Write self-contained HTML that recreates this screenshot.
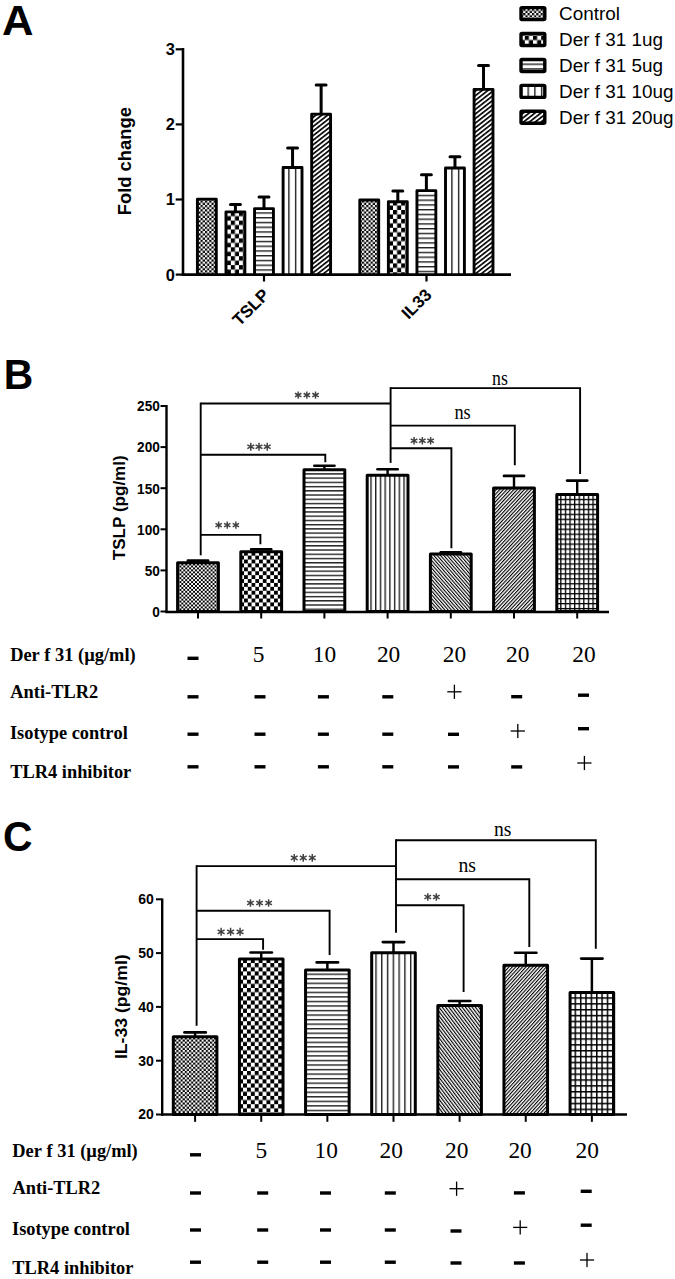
<!DOCTYPE html><html><head><meta charset="utf-8"><style>html,body{margin:0;padding:0;background:#fff;overflow:hidden;}svg{display:block;}</style></head><body>
<svg width="675" height="1279" viewBox="0 0 675 1279">
<defs><pattern id="adot" patternUnits="userSpaceOnUse" width="4.36" height="4.36"><rect width="4.36" height="4.36" fill="#fff"/><rect width="2.18" height="2.18" fill="#000"/><rect x="2.18" y="2.18" width="2.18" height="2.18" fill="#000"/></pattern><pattern id="achk" patternUnits="userSpaceOnUse" width="8.2" height="8.9"><rect width="8.2" height="8.9" fill="#fff"/><rect width="4.1" height="4.45" fill="#000"/><rect x="4.1" y="4.45" width="4.1" height="4.45" fill="#000"/></pattern><pattern id="ahor" patternUnits="userSpaceOnUse" width="10" height="4.75"><rect width="10" height="4.75" fill="#fff"/><rect y="0" width="10" height="1.4" fill="#222"/></pattern><pattern id="aver" patternUnits="userSpaceOnUse" width="6.7" height="10"><rect width="6.7" height="10" fill="#fff"/><rect x="0" width="1.4" height="10" fill="#222"/></pattern><pattern id="afwd" patternUnits="userSpaceOnUse" width="3.6" height="3.6" patternTransform="rotate(52)"><rect width="3.6" height="3.6" fill="#fff"/><rect width="1.66" height="3.6" fill="#000"/></pattern><pattern id="abck" patternUnits="userSpaceOnUse" width="3.6" height="3.6" patternTransform="rotate(-52)"><rect width="3.6" height="3.6" fill="#fff"/><rect width="1.66" height="3.6" fill="#000"/></pattern><pattern id="agrd" patternUnits="userSpaceOnUse" width="4.6" height="4.6"><rect width="4.6" height="4.6" fill="#000"/><rect x="1.4" y="1.4" width="3.20" height="3.20" fill="#fff"/></pattern><pattern id="bdot" patternUnits="userSpaceOnUse" width="3.9" height="3.9"><rect width="3.9" height="3.9" fill="#fff"/><rect width="1.95" height="1.95" fill="#000"/><rect x="1.95" y="1.95" width="1.95" height="1.95" fill="#000"/></pattern><pattern id="bchk" patternUnits="userSpaceOnUse" width="7.5" height="7.8"><rect width="7.5" height="7.8" fill="#fff"/><rect width="3.75" height="3.9" fill="#000"/><rect x="3.75" y="3.9" width="3.75" height="3.9" fill="#000"/></pattern><pattern id="bhor" patternUnits="userSpaceOnUse" width="10" height="4.23"><rect width="10" height="4.23" fill="#fff"/><rect y="0" width="10" height="1.4" fill="#222"/></pattern><pattern id="bver" patternUnits="userSpaceOnUse" width="4.72" height="10"><rect width="4.72" height="10" fill="#fff"/><rect x="0" width="1.4" height="10" fill="#222"/></pattern><pattern id="bfwd" patternUnits="userSpaceOnUse" width="2.56" height="2.56" patternTransform="rotate(43)"><rect width="2.56" height="2.56" fill="#fff"/><rect width="1.13" height="2.56" fill="#000"/></pattern><pattern id="bbck" patternUnits="userSpaceOnUse" width="2.5" height="2.5" patternTransform="rotate(-41)"><rect width="2.5" height="2.5" fill="#fff"/><rect width="1.10" height="2.5" fill="#000"/></pattern><pattern id="bgrd" patternUnits="userSpaceOnUse" width="4.6" height="4.96"><rect width="4.6" height="4.96" fill="#000"/><rect x="1.3" y="1.3" width="3.30" height="3.66" fill="#fff"/></pattern><pattern id="cdot" patternUnits="userSpaceOnUse" width="4.2" height="4.2"><rect width="4.2" height="4.2" fill="#fff"/><rect width="2.1" height="2.1" fill="#000"/><rect x="2.1" y="2.1" width="2.1" height="2.1" fill="#000"/></pattern><pattern id="cchk" patternUnits="userSpaceOnUse" width="7.8" height="8.3"><rect width="7.8" height="8.3" fill="#fff"/><rect width="3.9" height="4.15" fill="#000"/><rect x="3.9" y="4.15" width="3.9" height="4.15" fill="#000"/></pattern><pattern id="chor" patternUnits="userSpaceOnUse" width="10" height="4.54"><rect width="10" height="4.54" fill="#fff"/><rect y="0" width="10" height="1.4" fill="#222"/></pattern><pattern id="cver" patternUnits="userSpaceOnUse" width="5.78" height="10"><rect width="5.78" height="10" fill="#fff"/><rect x="0" width="1.4" height="10" fill="#222"/></pattern><pattern id="cfwd" patternUnits="userSpaceOnUse" width="2.53" height="2.53" patternTransform="rotate(42)"><rect width="2.53" height="2.53" fill="#fff"/><rect width="1.11" height="2.53" fill="#000"/></pattern><pattern id="cbck" patternUnits="userSpaceOnUse" width="2.64" height="2.64" patternTransform="rotate(-37)"><rect width="2.64" height="2.64" fill="#fff"/><rect width="1.16" height="2.64" fill="#000"/></pattern><pattern id="cgrd" patternUnits="userSpaceOnUse" width="5.36" height="5.86"><rect width="5.36" height="5.86" fill="#000"/><rect x="1.5" y="1.5" width="3.86" height="4.36" fill="#fff"/></pattern></defs>
<rect width="675" height="1279" fill="#fff"/>
<text transform="translate(2.01,34.70) scale(1.0086,1)" font-family='"Liberation Sans", sans-serif' font-size="43.300" font-weight="bold" fill="#000" style="font-kerning:none">A</text>
<line x1="183.00" y1="48.00" x2="183.00" y2="275.80" stroke="#000" stroke-width="2.6"/>
<line x1="181.70" y1="274.60" x2="511.00" y2="274.60" stroke="#000" stroke-width="2.6"/>
<line x1="175.70" y1="274.60" x2="183.00" y2="274.60" stroke="#000" stroke-width="2.2"/>
<text x="174.80" y="280.50" font-family='"Liberation Sans", sans-serif' font-size="16.4" font-weight="bold" text-anchor="end" fill="#000" style="font-kerning:none">0</text>
<line x1="175.70" y1="199.50" x2="183.00" y2="199.50" stroke="#000" stroke-width="2.2"/>
<text x="174.80" y="205.40" font-family='"Liberation Sans", sans-serif' font-size="16.4" font-weight="bold" text-anchor="end" fill="#000" style="font-kerning:none">1</text>
<line x1="175.70" y1="124.40" x2="183.00" y2="124.40" stroke="#000" stroke-width="2.2"/>
<text x="174.80" y="130.30" font-family='"Liberation Sans", sans-serif' font-size="16.4" font-weight="bold" text-anchor="end" fill="#000" style="font-kerning:none">2</text>
<line x1="175.70" y1="49.30" x2="183.00" y2="49.30" stroke="#000" stroke-width="2.2"/>
<text x="174.80" y="55.20" font-family='"Liberation Sans", sans-serif' font-size="16.4" font-weight="bold" text-anchor="end" fill="#000" style="font-kerning:none">3</text>
<text transform="translate(131.10,215.23) rotate(-90) scale(0.9666,1)" font-family='"Liberation Sans", sans-serif' font-size="19.000" font-weight="bold" fill="#000" style="font-kerning:none">Fold change</text>
<rect x="197.40" y="199.15" width="18.90" height="75.45" fill="url(#adot)" stroke="#000" stroke-width="2.9" stroke-linejoin="round"/>
<rect x="225.97" y="211.85" width="18.90" height="62.75" fill="url(#achk_1)" stroke="#000" stroke-width="2.9" stroke-linejoin="round"/>
<line x1="235.42" y1="211.40" x2="235.42" y2="204.60" stroke="#000" stroke-width="3.0"/>
<line x1="230.47" y1="204.60" x2="240.37" y2="204.60" stroke="#000" stroke-width="3.0" stroke-linecap="round"/>
<rect x="254.54" y="208.65" width="18.90" height="65.95" fill="url(#ahor_2)" stroke="#000" stroke-width="2.9" stroke-linejoin="round"/>
<line x1="263.99" y1="208.20" x2="263.99" y2="196.90" stroke="#000" stroke-width="3.0"/>
<line x1="259.04" y1="196.90" x2="268.94" y2="196.90" stroke="#000" stroke-width="3.0" stroke-linecap="round"/>
<rect x="283.11" y="167.45" width="18.90" height="107.15" fill="url(#aver_3)" stroke="#000" stroke-width="2.9" stroke-linejoin="round"/>
<line x1="292.56" y1="167.00" x2="292.56" y2="148.00" stroke="#000" stroke-width="3.0"/>
<line x1="287.61" y1="148.00" x2="297.51" y2="148.00" stroke="#000" stroke-width="3.0" stroke-linecap="round"/>
<rect x="311.68" y="114.15" width="18.90" height="160.45" fill="url(#afwd)" stroke="#000" stroke-width="2.9" stroke-linejoin="round"/>
<line x1="321.13" y1="113.70" x2="321.13" y2="85.00" stroke="#000" stroke-width="3.0"/>
<line x1="316.18" y1="85.00" x2="326.08" y2="85.00" stroke="#000" stroke-width="3.0" stroke-linecap="round"/>
<rect x="359.80" y="200.05" width="18.90" height="74.55" fill="url(#adot)" stroke="#000" stroke-width="2.9" stroke-linejoin="round"/>
<rect x="388.37" y="201.75" width="18.90" height="72.85" fill="url(#achk_4)" stroke="#000" stroke-width="2.9" stroke-linejoin="round"/>
<line x1="397.82" y1="201.30" x2="397.82" y2="190.90" stroke="#000" stroke-width="3.0"/>
<line x1="392.87" y1="190.90" x2="402.77" y2="190.90" stroke="#000" stroke-width="3.0" stroke-linecap="round"/>
<rect x="416.94" y="190.65" width="18.90" height="83.95" fill="url(#ahor)" stroke="#000" stroke-width="2.9" stroke-linejoin="round"/>
<line x1="426.39" y1="190.20" x2="426.39" y2="174.70" stroke="#000" stroke-width="3.0"/>
<line x1="421.44" y1="174.70" x2="431.34" y2="174.70" stroke="#000" stroke-width="3.0" stroke-linecap="round"/>
<rect x="445.51" y="167.95" width="18.90" height="106.65" fill="url(#aver_5)" stroke="#000" stroke-width="2.9" stroke-linejoin="round"/>
<line x1="454.96" y1="167.50" x2="454.96" y2="156.80" stroke="#000" stroke-width="3.0"/>
<line x1="450.01" y1="156.80" x2="459.91" y2="156.80" stroke="#000" stroke-width="3.0" stroke-linecap="round"/>
<rect x="474.08" y="89.35" width="18.90" height="185.25" fill="url(#afwd)" stroke="#000" stroke-width="2.9" stroke-linejoin="round"/>
<line x1="483.53" y1="88.90" x2="483.53" y2="65.60" stroke="#000" stroke-width="3.0"/>
<line x1="478.58" y1="65.60" x2="488.48" y2="65.60" stroke="#000" stroke-width="3.0" stroke-linecap="round"/>
<line x1="264.00" y1="274.60" x2="264.00" y2="281.50" stroke="#000" stroke-width="2.2"/>
<line x1="426.50" y1="274.60" x2="426.50" y2="281.50" stroke="#000" stroke-width="2.2"/>
<text transform="translate(239.38,326.82) rotate(-45)" font-family='"Liberation Sans", sans-serif' font-size="17.092" font-weight="bold" fill="#000" style="font-kerning:none">TSLP</text>
<text transform="translate(408.50,320.10) rotate(-45)" font-family='"Liberation Sans", sans-serif' font-size="17.091" font-weight="bold" fill="#000" style="font-kerning:none">IL33</text>
<rect x="521.00" y="7.60" width="23.80" height="12.00" rx="1" fill="url(#adot)" stroke="#000" stroke-width="3.4" stroke-linejoin="round"/>
<text x="559.00" y="19.90" font-family='"Liberation Sans", sans-serif' font-size="18.9" font-weight="normal" text-anchor="start" fill="#000" style="font-kerning:none">Control</text>
<rect x="521.00" y="33.53" width="23.80" height="12.00" rx="1" fill="url(#achk)" stroke="#000" stroke-width="3.4" stroke-linejoin="round"/>
<text x="559.00" y="45.90" font-family='"Liberation Sans", sans-serif' font-size="18.9" font-weight="normal" text-anchor="start" fill="#000" style="font-kerning:none">Der f 31 1ug</text>
<rect x="521.00" y="59.46" width="23.80" height="12.00" rx="1" fill="url(#leg2)" stroke="#000" stroke-width="3.4" stroke-linejoin="round"/>
<text x="559.00" y="71.90" font-family='"Liberation Sans", sans-serif' font-size="18.9" font-weight="normal" text-anchor="start" fill="#000" style="font-kerning:none">Der f 31 5ug</text>
<rect x="521.00" y="85.39" width="23.80" height="12.00" rx="1" fill="url(#leg3)" stroke="#000" stroke-width="3.4" stroke-linejoin="round"/>
<text x="559.00" y="97.90" font-family='"Liberation Sans", sans-serif' font-size="18.9" font-weight="normal" text-anchor="start" fill="#000" style="font-kerning:none">Der f 31 10ug</text>
<rect x="521.00" y="111.32" width="23.80" height="12.00" rx="1" fill="url(#afwd)" stroke="#000" stroke-width="3.4" stroke-linejoin="round"/>
<text x="559.00" y="123.90" font-family='"Liberation Sans", sans-serif' font-size="18.9" font-weight="normal" text-anchor="start" fill="#000" style="font-kerning:none">Der f 31 20ug</text>
<text transform="translate(3.77,388.60) scale(0.9495,1)" font-family='"Liberation Sans", sans-serif' font-size="43.000" font-weight="bold" fill="#000" style="font-kerning:none">B</text>
<line x1="166.50" y1="405.00" x2="166.50" y2="612.70" stroke="#000" stroke-width="2.4"/>
<line x1="165.30" y1="612.00" x2="609.00" y2="612.00" stroke="#000" stroke-width="2.6"/>
<line x1="160.50" y1="611.50" x2="166.50" y2="611.50" stroke="#000" stroke-width="2.0"/>
<text transform="translate(152.27,616.80) scale(0.9100,1)" font-family='"Liberation Sans", sans-serif' font-size="15.000" font-weight="bold" fill="#000" style="font-kerning:none">0</text>
<line x1="160.50" y1="570.40" x2="166.50" y2="570.40" stroke="#000" stroke-width="2.0"/>
<text transform="translate(144.68,575.70) scale(0.9100,1)" font-family='"Liberation Sans", sans-serif' font-size="15.000" font-weight="bold" fill="#000" style="font-kerning:none">50</text>
<line x1="160.50" y1="529.30" x2="166.50" y2="529.30" stroke="#000" stroke-width="2.0"/>
<text transform="translate(137.09,534.60) scale(0.9100,1)" font-family='"Liberation Sans", sans-serif' font-size="15.000" font-weight="bold" fill="#000" style="font-kerning:none">100</text>
<line x1="160.50" y1="488.20" x2="166.50" y2="488.20" stroke="#000" stroke-width="2.0"/>
<text transform="translate(137.09,493.50) scale(0.9100,1)" font-family='"Liberation Sans", sans-serif' font-size="15.000" font-weight="bold" fill="#000" style="font-kerning:none">150</text>
<line x1="160.50" y1="447.10" x2="166.50" y2="447.10" stroke="#000" stroke-width="2.0"/>
<text transform="translate(137.09,452.40) scale(0.9100,1)" font-family='"Liberation Sans", sans-serif' font-size="15.000" font-weight="bold" fill="#000" style="font-kerning:none">200</text>
<line x1="160.50" y1="406.00" x2="166.50" y2="406.00" stroke="#000" stroke-width="2.0"/>
<text transform="translate(137.09,411.30) scale(0.9100,1)" font-family='"Liberation Sans", sans-serif' font-size="15.000" font-weight="bold" fill="#000" style="font-kerning:none">250</text>
<text transform="translate(124.90,560.19) rotate(-90) scale(1.0627,1)" font-family='"Liberation Sans", sans-serif' font-size="16.000" font-weight="bold" fill="#000" style="font-kerning:none">TSLP (pg/ml)</text>
<rect x="177.60" y="562.80" width="40.80" height="48.70" fill="url(#bdot)" stroke="#000" stroke-width="3.0" stroke-linejoin="round"/>
<line x1="187.90" y1="560.60" x2="208.10" y2="560.60" stroke="#000" stroke-width="2.6" stroke-linecap="round"/>
<line x1="198.00" y1="612.50" x2="198.00" y2="618.50" stroke="#000" stroke-width="2.0"/>
<rect x="240.80" y="551.80" width="40.80" height="59.70" fill="url(#bchk_6)" stroke="#000" stroke-width="3.0" stroke-linejoin="round"/>
<line x1="251.10" y1="549.40" x2="271.30" y2="549.40" stroke="#000" stroke-width="2.6" stroke-linecap="round"/>
<line x1="261.20" y1="612.50" x2="261.20" y2="618.50" stroke="#000" stroke-width="2.0"/>
<rect x="304.00" y="469.80" width="40.80" height="141.70" fill="url(#bhor_7)" stroke="#000" stroke-width="3.0" stroke-linejoin="round"/>
<line x1="324.40" y1="469.30" x2="324.40" y2="465.70" stroke="#000" stroke-width="2.4"/>
<line x1="314.30" y1="465.70" x2="334.50" y2="465.70" stroke="#000" stroke-width="2.6" stroke-linecap="round"/>
<line x1="324.40" y1="612.50" x2="324.40" y2="618.50" stroke="#000" stroke-width="2.0"/>
<rect x="367.20" y="475.20" width="40.80" height="136.30" fill="url(#bver_8)" stroke="#000" stroke-width="3.0" stroke-linejoin="round"/>
<line x1="387.60" y1="474.70" x2="387.60" y2="469.20" stroke="#000" stroke-width="2.4"/>
<line x1="377.50" y1="469.20" x2="397.70" y2="469.20" stroke="#000" stroke-width="2.6" stroke-linecap="round"/>
<line x1="387.60" y1="612.50" x2="387.60" y2="618.50" stroke="#000" stroke-width="2.0"/>
<rect x="430.40" y="554.10" width="40.80" height="57.40" fill="url(#bbck)" stroke="#000" stroke-width="3.0" stroke-linejoin="round"/>
<line x1="440.70" y1="552.20" x2="460.90" y2="552.20" stroke="#000" stroke-width="2.6" stroke-linecap="round"/>
<line x1="450.80" y1="612.50" x2="450.80" y2="618.50" stroke="#000" stroke-width="2.0"/>
<rect x="493.60" y="487.90" width="40.80" height="123.60" fill="url(#bfwd)" stroke="#000" stroke-width="3.0" stroke-linejoin="round"/>
<line x1="514.00" y1="487.40" x2="514.00" y2="475.90" stroke="#000" stroke-width="2.4"/>
<line x1="503.90" y1="475.90" x2="524.10" y2="475.90" stroke="#000" stroke-width="2.6" stroke-linecap="round"/>
<line x1="514.00" y1="612.50" x2="514.00" y2="618.50" stroke="#000" stroke-width="2.0"/>
<rect x="556.80" y="494.40" width="40.80" height="117.10" fill="url(#bgrd_9)" stroke="#000" stroke-width="3.0" stroke-linejoin="round"/>
<line x1="577.20" y1="493.90" x2="577.20" y2="480.60" stroke="#000" stroke-width="2.4"/>
<line x1="567.10" y1="480.60" x2="587.30" y2="480.60" stroke="#000" stroke-width="2.6" stroke-linecap="round"/>
<line x1="577.20" y1="612.50" x2="577.20" y2="618.50" stroke="#000" stroke-width="2.0"/>
<line x1="200.70" y1="555.30" x2="200.70" y2="402.60" stroke="#000" stroke-width="1.9"/>
<polyline points="200.70,534.90 260.40,534.90 260.40,544.20" fill="none" stroke="#000" stroke-width="1.9"/>
<polyline points="200.70,454.70 325.30,454.70 325.30,462.30" fill="none" stroke="#000" stroke-width="1.9"/>
<line x1="200.70" y1="403.50" x2="390.60" y2="403.50" stroke="#000" stroke-width="1.9"/>
<line x1="390.60" y1="387.20" x2="390.60" y2="462.90" stroke="#000" stroke-width="1.9"/>
<polyline points="390.60,448.30 451.40,448.30 451.40,548.30" fill="none" stroke="#000" stroke-width="1.9"/>
<polyline points="390.60,425.60 514.80,425.60 514.80,465.20" fill="none" stroke="#000" stroke-width="1.9"/>
<polyline points="390.60,388.10 580.10,388.10 580.10,474.00" fill="none" stroke="#000" stroke-width="1.9"/>
<path d="M218.63,521.50V528.80M215.47,523.32L221.79,526.98M215.47,526.98L221.79,523.32" stroke="#404040" stroke-width="1.45" fill="none"/>
<path d="M227.25,521.50V528.80M224.09,523.32L230.41,526.98M224.09,526.98L230.41,523.32" stroke="#404040" stroke-width="1.45" fill="none"/>
<path d="M235.87,521.50V528.80M232.71,523.32L239.03,526.98M232.71,526.98L239.03,523.32" stroke="#404040" stroke-width="1.45" fill="none"/>
<path d="M250.79,442.80V450.70M247.37,444.78L254.21,448.72M247.37,448.72L254.21,444.78" stroke="#404040" stroke-width="1.45" fill="none"/>
<path d="M259.00,442.80V450.70M255.58,444.78L262.42,448.72M255.58,448.72L262.42,444.78" stroke="#404040" stroke-width="1.45" fill="none"/>
<path d="M267.21,442.80V450.70M263.79,444.78L270.63,448.72M263.79,448.72L270.63,444.78" stroke="#404040" stroke-width="1.45" fill="none"/>
<path d="M298.18,391.40V398.80M294.97,393.25L301.38,396.95M294.97,396.95L301.38,393.25" stroke="#404040" stroke-width="1.45" fill="none"/>
<path d="M306.85,391.40V398.80M303.65,393.25L310.05,396.95M303.65,396.95L310.05,393.25" stroke="#404040" stroke-width="1.45" fill="none"/>
<path d="M315.52,391.40V398.80M312.32,393.25L318.73,396.95M312.32,396.95L318.73,393.25" stroke="#404040" stroke-width="1.45" fill="none"/>
<path d="M414.06,437.00V444.60M410.77,438.90L417.35,442.70M410.77,442.70L417.35,438.90" stroke="#404040" stroke-width="1.45" fill="none"/>
<path d="M422.35,437.00V444.60M419.06,438.90L425.64,442.70M419.06,442.70L425.64,438.90" stroke="#404040" stroke-width="1.45" fill="none"/>
<path d="M430.64,437.00V444.60M427.35,438.90L433.93,442.70M427.35,442.70L433.93,438.90" stroke="#404040" stroke-width="1.45" fill="none"/>
<text transform="translate(454.38,418.70) scale(0.8517,1)" font-family='"Liberation Serif", serif' font-size="21.500" font-weight="normal" fill="#000" style="font-kerning:none">ns</text>
<text transform="translate(492.09,384.80) scale(0.8293,1)" font-family='"Liberation Serif", serif' font-size="21.500" font-weight="normal" fill="#000" style="font-kerning:none">ns</text>
<text transform="translate(10.18,660.70) scale(1.0220,1)" font-family='"Liberation Serif", serif' font-size="18.000" font-weight="bold" fill="#000" style="font-kerning:none">Der f 31 (µg/ml)</text>
<text transform="translate(10.32,698.00) scale(1.0220,1)" font-family='"Liberation Serif", serif' font-size="18.000" font-weight="bold" fill="#000" style="font-kerning:none">Anti-TLR2</text>
<text transform="translate(9.88,739.00) scale(1.0220,1)" font-family='"Liberation Serif", serif' font-size="18.000" font-weight="bold" fill="#000" style="font-kerning:none">Isotype control</text>
<text transform="translate(10.21,778.00) scale(1.0220,1)" font-family='"Liberation Serif", serif' font-size="18.000" font-weight="bold" fill="#000" style="font-kerning:none">TLR4 inhibitor</text>
<rect x="187.50" y="656.60" width="11" height="3.4" fill="#000"/>
<text x="258.60" y="662.30" font-family='"Liberation Serif", serif' font-size="23.4" font-weight="normal" text-anchor="middle" fill="#000" style="font-kerning:none">5</text>
<text x="324.40" y="662.30" font-family='"Liberation Serif", serif' font-size="23.4" font-weight="normal" text-anchor="middle" fill="#000" style="font-kerning:none">10</text>
<text x="388.60" y="662.30" font-family='"Liberation Serif", serif' font-size="23.4" font-weight="normal" text-anchor="middle" fill="#000" style="font-kerning:none">20</text>
<text x="454.50" y="662.30" font-family='"Liberation Serif", serif' font-size="23.4" font-weight="normal" text-anchor="middle" fill="#000" style="font-kerning:none">20</text>
<text x="517.80" y="662.30" font-family='"Liberation Serif", serif' font-size="23.4" font-weight="normal" text-anchor="middle" fill="#000" style="font-kerning:none">20</text>
<text x="584.00" y="662.30" font-family='"Liberation Serif", serif' font-size="23.4" font-weight="normal" text-anchor="middle" fill="#000" style="font-kerning:none">20</text>
<rect x="187.50" y="695.10" width="11" height="3.4" fill="#000"/>
<rect x="254.50" y="695.10" width="11" height="3.4" fill="#000"/>
<rect x="317.90" y="695.10" width="11" height="3.4" fill="#000"/>
<rect x="382.30" y="695.10" width="11" height="3.4" fill="#000"/>
<rect x="447.30" y="691.15" width="14.2" height="1.3" fill="#000"/><rect x="453.75" y="684.70" width="1.3" height="14.2" fill="#000"/>
<rect x="511.20" y="695.00" width="11" height="3.4" fill="#000"/>
<rect x="578.00" y="693.50" width="11" height="3.4" fill="#000"/>
<rect x="187.50" y="732.50" width="11" height="3.4" fill="#000"/>
<rect x="254.50" y="732.50" width="11" height="3.4" fill="#000"/>
<rect x="317.90" y="732.50" width="11" height="3.4" fill="#000"/>
<rect x="382.30" y="732.50" width="11" height="3.4" fill="#000"/>
<rect x="448.00" y="732.60" width="11" height="3.4" fill="#000"/>
<rect x="510.70" y="730.35" width="14.2" height="1.3" fill="#000"/><rect x="517.15" y="723.90" width="1.3" height="14.2" fill="#000"/>
<rect x="578.00" y="727.00" width="11" height="3.4" fill="#000"/>
<rect x="187.50" y="765.10" width="11" height="3.4" fill="#000"/>
<rect x="254.50" y="765.10" width="11" height="3.4" fill="#000"/>
<rect x="317.90" y="765.10" width="11" height="3.4" fill="#000"/>
<rect x="382.30" y="765.10" width="11" height="3.4" fill="#000"/>
<rect x="448.00" y="765.20" width="11" height="3.4" fill="#000"/>
<rect x="511.20" y="765.20" width="11" height="3.4" fill="#000"/>
<rect x="577.30" y="762.35" width="14.2" height="1.3" fill="#000"/><rect x="583.75" y="755.90" width="1.3" height="14.2" fill="#000"/>
<text transform="translate(3.03,850.50) scale(0.9586,1)" font-family='"Liberation Sans", sans-serif' font-size="42.600" font-weight="bold" fill="#000" style="font-kerning:none">C</text>
<line x1="162.20" y1="898.50" x2="162.20" y2="1115.70" stroke="#000" stroke-width="2.4"/>
<line x1="161.00" y1="1114.50" x2="627.00" y2="1114.50" stroke="#000" stroke-width="2.6"/>
<line x1="156.00" y1="1114.50" x2="162.20" y2="1114.50" stroke="#000" stroke-width="2.0"/>
<text transform="translate(138.29,1119.30) scale(0.9100,1)" font-family='"Liberation Sans", sans-serif' font-size="15.400" font-weight="bold" fill="#000" style="font-kerning:none">20</text>
<line x1="156.00" y1="1060.70" x2="162.20" y2="1060.70" stroke="#000" stroke-width="2.0"/>
<text transform="translate(138.29,1065.50) scale(0.9100,1)" font-family='"Liberation Sans", sans-serif' font-size="15.400" font-weight="bold" fill="#000" style="font-kerning:none">30</text>
<line x1="156.00" y1="1006.90" x2="162.20" y2="1006.90" stroke="#000" stroke-width="2.0"/>
<text transform="translate(138.29,1011.70) scale(0.9100,1)" font-family='"Liberation Sans", sans-serif' font-size="15.400" font-weight="bold" fill="#000" style="font-kerning:none">40</text>
<line x1="156.00" y1="953.10" x2="162.20" y2="953.10" stroke="#000" stroke-width="2.0"/>
<text transform="translate(138.29,957.90) scale(0.9100,1)" font-family='"Liberation Sans", sans-serif' font-size="15.400" font-weight="bold" fill="#000" style="font-kerning:none">50</text>
<line x1="156.00" y1="899.30" x2="162.20" y2="899.30" stroke="#000" stroke-width="2.0"/>
<text transform="translate(138.29,904.10) scale(0.9100,1)" font-family='"Liberation Sans", sans-serif' font-size="15.400" font-weight="bold" fill="#000" style="font-kerning:none">60</text>
<text transform="translate(126.90,1059.08) rotate(-90) scale(1.0563,1)" font-family='"Liberation Sans", sans-serif' font-size="16.700" font-weight="bold" fill="#000" style="font-kerning:none">IL-33 (pg/ml)</text>
<rect x="173.30" y="1036.80" width="43.60" height="77.70" fill="url(#cdot)" stroke="#000" stroke-width="3.0" stroke-linejoin="round"/>
<line x1="195.10" y1="1036.30" x2="195.10" y2="1032.40" stroke="#000" stroke-width="2.5"/>
<line x1="184.40" y1="1032.40" x2="205.80" y2="1032.40" stroke="#000" stroke-width="2.6" stroke-linecap="round"/>
<line x1="195.10" y1="1115.50" x2="195.10" y2="1121.80" stroke="#000" stroke-width="2.0"/>
<rect x="239.43" y="959.10" width="43.60" height="155.40" fill="url(#cchk_10)" stroke="#000" stroke-width="3.0" stroke-linejoin="round"/>
<line x1="261.23" y1="958.60" x2="261.23" y2="952.50" stroke="#000" stroke-width="2.5"/>
<line x1="250.53" y1="952.50" x2="271.93" y2="952.50" stroke="#000" stroke-width="2.6" stroke-linecap="round"/>
<line x1="261.23" y1="1115.50" x2="261.23" y2="1121.80" stroke="#000" stroke-width="2.0"/>
<rect x="305.56" y="970.10" width="43.60" height="144.40" fill="url(#chor_11)" stroke="#000" stroke-width="3.0" stroke-linejoin="round"/>
<line x1="327.36" y1="969.60" x2="327.36" y2="962.40" stroke="#000" stroke-width="2.5"/>
<line x1="316.66" y1="962.40" x2="338.06" y2="962.40" stroke="#000" stroke-width="2.6" stroke-linecap="round"/>
<line x1="327.36" y1="1115.50" x2="327.36" y2="1121.80" stroke="#000" stroke-width="2.0"/>
<rect x="371.69" y="952.70" width="43.60" height="161.80" fill="url(#cver_12)" stroke="#000" stroke-width="3.0" stroke-linejoin="round"/>
<line x1="393.49" y1="952.20" x2="393.49" y2="942.10" stroke="#000" stroke-width="2.5"/>
<line x1="382.79" y1="942.10" x2="404.19" y2="942.10" stroke="#000" stroke-width="2.6" stroke-linecap="round"/>
<line x1="393.49" y1="1115.50" x2="393.49" y2="1121.80" stroke="#000" stroke-width="2.0"/>
<rect x="437.82" y="1005.50" width="43.60" height="109.00" fill="url(#cbck)" stroke="#000" stroke-width="3.0" stroke-linejoin="round"/>
<line x1="459.62" y1="1005.00" x2="459.62" y2="1001.00" stroke="#000" stroke-width="2.5"/>
<line x1="448.92" y1="1001.00" x2="470.32" y2="1001.00" stroke="#000" stroke-width="2.6" stroke-linecap="round"/>
<line x1="459.62" y1="1115.50" x2="459.62" y2="1121.80" stroke="#000" stroke-width="2.0"/>
<rect x="503.95" y="965.30" width="43.60" height="149.20" fill="url(#cfwd)" stroke="#000" stroke-width="3.0" stroke-linejoin="round"/>
<line x1="525.75" y1="964.80" x2="525.75" y2="952.70" stroke="#000" stroke-width="2.5"/>
<line x1="515.05" y1="952.70" x2="536.45" y2="952.70" stroke="#000" stroke-width="2.6" stroke-linecap="round"/>
<line x1="525.75" y1="1115.50" x2="525.75" y2="1121.80" stroke="#000" stroke-width="2.0"/>
<rect x="570.08" y="992.60" width="43.60" height="121.90" fill="url(#cgrd_13)" stroke="#000" stroke-width="3.0" stroke-linejoin="round"/>
<line x1="591.88" y1="992.10" x2="591.88" y2="958.60" stroke="#000" stroke-width="2.5"/>
<line x1="581.18" y1="958.60" x2="602.58" y2="958.60" stroke="#000" stroke-width="2.6" stroke-linecap="round"/>
<line x1="591.88" y1="1115.50" x2="591.88" y2="1121.80" stroke="#000" stroke-width="2.0"/>
<line x1="196.60" y1="1025.80" x2="196.60" y2="865.20" stroke="#000" stroke-width="1.9"/>
<line x1="196.60" y1="866.10" x2="396.00" y2="866.10" stroke="#000" stroke-width="1.9"/>
<polyline points="196.60,910.70 329.60,910.70 329.60,955.10" fill="none" stroke="#000" stroke-width="1.9"/>
<polyline points="196.60,939.10 263.10,939.10 263.10,949.80" fill="none" stroke="#000" stroke-width="1.9"/>
<line x1="396.00" y1="839.30" x2="396.00" y2="932.70" stroke="#000" stroke-width="1.9"/>
<polyline points="396.00,905.30 463.60,905.30 463.60,992.00" fill="none" stroke="#000" stroke-width="1.9"/>
<polyline points="396.00,879.30 529.30,879.30 529.30,946.90" fill="none" stroke="#000" stroke-width="1.9"/>
<polyline points="396.00,840.20 595.80,840.20 595.80,948.70" fill="none" stroke="#000" stroke-width="1.9"/>
<path d="M294.24,854.00V861.80M290.87,855.95L297.62,859.85M290.87,859.85L297.62,855.95" stroke="#404040" stroke-width="1.45" fill="none"/>
<path d="M303.25,854.00V861.80M299.87,855.95L306.63,859.85M299.87,859.85L306.63,855.95" stroke="#404040" stroke-width="1.45" fill="none"/>
<path d="M312.26,854.00V861.80M308.88,855.95L315.63,859.85M308.88,859.85L315.63,855.95" stroke="#404040" stroke-width="1.45" fill="none"/>
<path d="M250.46,899.20V906.80M247.17,901.10L253.75,904.90M247.17,904.90L253.75,901.10" stroke="#404040" stroke-width="1.45" fill="none"/>
<path d="M259.55,899.20V906.80M256.26,901.10L262.84,904.90M256.26,904.90L262.84,901.10" stroke="#404040" stroke-width="1.45" fill="none"/>
<path d="M268.64,899.20V906.80M265.35,901.10L271.93,904.90M265.35,904.90L271.93,901.10" stroke="#404040" stroke-width="1.45" fill="none"/>
<path d="M221.13,927.80V935.80M217.66,929.80L224.59,933.80M217.66,933.80L224.59,929.80" stroke="#404040" stroke-width="1.45" fill="none"/>
<path d="M230.60,927.80V935.80M227.14,929.80L234.06,933.80M227.14,933.80L234.06,929.80" stroke="#404040" stroke-width="1.45" fill="none"/>
<path d="M240.07,927.80V935.80M236.61,929.80L243.54,933.80M236.61,933.80L243.54,929.80" stroke="#404040" stroke-width="1.45" fill="none"/>
<path d="M427.76,893.20V900.80M424.47,895.10L431.05,898.90M424.47,898.90L431.05,895.10" stroke="#404040" stroke-width="1.45" fill="none"/>
<path d="M436.34,893.20V900.80M433.05,895.10L439.63,898.90M433.05,898.90L439.63,895.10" stroke="#404040" stroke-width="1.45" fill="none"/>
<text transform="translate(458.45,872.20) scale(0.9189,1)" font-family='"Liberation Serif", serif' font-size="21.500" font-weight="normal" fill="#000" style="font-kerning:none">ns</text>
<text transform="translate(494.05,835.60) scale(0.9133,1)" font-family='"Liberation Serif", serif' font-size="21.500" font-weight="normal" fill="#000" style="font-kerning:none">ns</text>
<text transform="translate(12.28,1157.20) scale(1.0220,1)" font-family='"Liberation Serif", serif' font-size="18.000" font-weight="bold" fill="#000" style="font-kerning:none">Der f 31 (µg/ml)</text>
<text transform="translate(12.42,1193.50) scale(1.0220,1)" font-family='"Liberation Serif", serif' font-size="18.000" font-weight="bold" fill="#000" style="font-kerning:none">Anti-TLR2</text>
<text transform="translate(11.98,1235.30) scale(1.0220,1)" font-family='"Liberation Serif", serif' font-size="18.000" font-weight="bold" fill="#000" style="font-kerning:none">Isotype control</text>
<text transform="translate(12.31,1273.80) scale(1.0220,1)" font-family='"Liberation Serif", serif' font-size="18.000" font-weight="bold" fill="#000" style="font-kerning:none">TLR4 inhibitor</text>
<rect x="190.00" y="1153.10" width="11" height="3.4" fill="#000"/>
<text x="261.30" y="1157.90" font-family='"Liberation Serif", serif' font-size="23.4" font-weight="normal" text-anchor="middle" fill="#000" style="font-kerning:none">5</text>
<text x="326.25" y="1157.90" font-family='"Liberation Serif", serif' font-size="23.4" font-weight="normal" text-anchor="middle" fill="#000" style="font-kerning:none">10</text>
<text x="391.30" y="1157.90" font-family='"Liberation Serif", serif' font-size="23.4" font-weight="normal" text-anchor="middle" fill="#000" style="font-kerning:none">20</text>
<text x="456.80" y="1157.90" font-family='"Liberation Serif", serif' font-size="23.4" font-weight="normal" text-anchor="middle" fill="#000" style="font-kerning:none">20</text>
<text x="520.10" y="1157.90" font-family='"Liberation Serif", serif' font-size="23.4" font-weight="normal" text-anchor="middle" fill="#000" style="font-kerning:none">20</text>
<text x="587.20" y="1157.90" font-family='"Liberation Serif", serif' font-size="23.4" font-weight="normal" text-anchor="middle" fill="#000" style="font-kerning:none">20</text>
<rect x="190.00" y="1191.30" width="11" height="3.4" fill="#000"/>
<rect x="257.20" y="1191.30" width="11" height="3.4" fill="#000"/>
<rect x="320.00" y="1191.30" width="11" height="3.4" fill="#000"/>
<rect x="384.80" y="1191.30" width="11" height="3.4" fill="#000"/>
<rect x="449.50" y="1188.05" width="14.2" height="1.3" fill="#000"/><rect x="455.95" y="1181.60" width="1.3" height="14.2" fill="#000"/>
<rect x="513.90" y="1191.20" width="11" height="3.4" fill="#000"/>
<rect x="580.70" y="1189.60" width="11" height="3.4" fill="#000"/>
<rect x="190.00" y="1228.30" width="11" height="3.4" fill="#000"/>
<rect x="257.20" y="1228.30" width="11" height="3.4" fill="#000"/>
<rect x="320.00" y="1228.30" width="11" height="3.4" fill="#000"/>
<rect x="384.80" y="1228.30" width="11" height="3.4" fill="#000"/>
<rect x="450.50" y="1229.30" width="11" height="3.4" fill="#000"/>
<rect x="513.10" y="1226.75" width="14.2" height="1.3" fill="#000"/><rect x="519.55" y="1220.30" width="1.3" height="14.2" fill="#000"/>
<rect x="580.70" y="1223.50" width="11" height="3.4" fill="#000"/>
<rect x="190.00" y="1260.50" width="11" height="3.4" fill="#000"/>
<rect x="257.20" y="1260.50" width="11" height="3.4" fill="#000"/>
<rect x="320.00" y="1260.50" width="11" height="3.4" fill="#000"/>
<rect x="384.80" y="1260.50" width="11" height="3.4" fill="#000"/>
<rect x="450.50" y="1261.30" width="11" height="3.4" fill="#000"/>
<rect x="513.90" y="1261.30" width="11" height="3.4" fill="#000"/>
<rect x="579.90" y="1259.35" width="14.2" height="1.3" fill="#000"/><rect x="586.35" y="1252.90" width="1.3" height="14.2" fill="#000"/>
<defs><pattern id="achk_1" href="#achk" patternTransform="translate(1.25,7.00)"/><pattern id="ahor_2" href="#ahor" patternTransform="translate(0.00,3.30)"/><pattern id="aver_3" href="#aver" patternTransform="translate(0.10,0.00)"/><pattern id="achk_4" href="#achk" patternTransform="translate(7.60,5.30)"/><pattern id="aver_5" href="#aver" patternTransform="translate(2.30,0.00)"/><pattern id="leg2" href="#ahor" patternTransform="translate(0.00,1.75)"/><pattern id="leg3" href="#aver" patternTransform="translate(4.90,0.00)"/><pattern id="bchk_6" href="#bchk" patternTransform="translate(0.30,1.85)"/><pattern id="bhor_7" href="#bhor" patternTransform="translate(0.00,3.67)"/><pattern id="bver_8" href="#bver" patternTransform="translate(2.14,0.00)"/><pattern id="bgrd_9" href="#bgrd" patternTransform="translate(3.60,2.85)"/><pattern id="cchk_10" href="#cchk" patternTransform="translate(5.15,0.30)"/><pattern id="chor_11" href="#chor" patternTransform="translate(0.00,1.96)"/><pattern id="cver_12" href="#cver" patternTransform="translate(5.38,0.00)"/><pattern id="cgrd_13" href="#cgrd" patternTransform="translate(1.03,1.05)"/></defs>
</svg></body></html>
